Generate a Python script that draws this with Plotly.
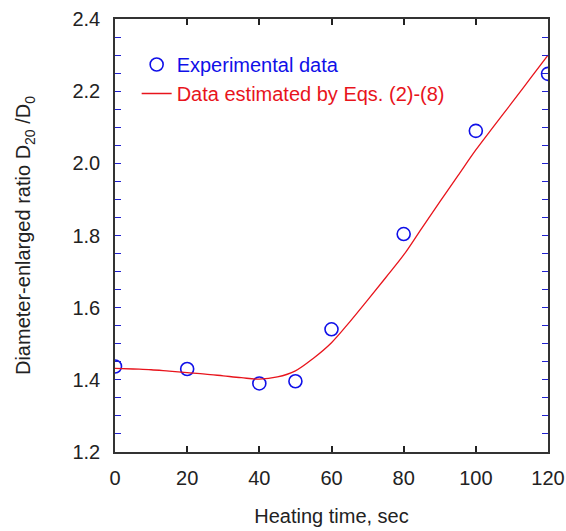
import plotly.graph_objects as go

# Experimental data
exp_time = [0, 20, 40, 50, 60, 80, 100, 120]
exp_ratio = [1.437, 1.430, 1.390, 1.396, 1.540, 1.804, 2.090, 2.248]

# Estimated curve (Eqs. (2)-(8))
est_time = [0, 5, 10, 15, 20, 25, 30, 35, 40, 45, 50, 55, 60, 65, 70, 75, 80,
            85, 90, 95, 100, 105, 110, 115, 120]
est_ratio = [1.432, 1.430, 1.428, 1.424, 1.420, 1.416, 1.411, 1.406, 1.402, 1.408,
             1.425, 1.460, 1.503, 1.560, 1.621, 1.683, 1.746, 1.820, 1.893, 1.965,
             2.037, 2.103, 2.168, 2.234, 2.300]

x_ticks = [0, 20, 40, 60, 80, 100, 120]
y_ticks = [1.2, 1.4, 1.6, 1.8, 2.0, 2.2, 2.4]

FONT = "Liberation Sans, Arial, sans-serif"
FS = 20
BLUE = "#1010e8"
RED = "#e8141c"

fig = go.Figure()
fig.add_trace(go.Scatter(
    x=exp_time, y=exp_ratio, mode="markers",
    name=f"<span style='color:{BLUE}'>Experimental data</span>",
    marker=dict(symbol="circle-open", size=13, color=BLUE, line=dict(width=1.6)),
))
fig.add_trace(go.Scatter(
    x=est_time, y=est_ratio, mode="lines",
    name=f"<span style='color:{RED}'>Data estimated by Eqs. (2)-(8)</span>",
    line=dict(color=RED, width=1.3), line_shape="spline",
))

fig.update_layout(
    width=566, height=531,
    margin=dict(l=115, r=18, t=19, b=79, autoexpand=False),
    paper_bgcolor="white", plot_bgcolor="white",
    font=dict(family=FONT, size=FS, color="#222222"),
    showlegend=True,
    legend=dict(x=0.05, y=0.94, xanchor="left", yanchor="top",
                bgcolor="rgba(0,0,0,0)", font=dict(size=FS, family=FONT),
                tracegroupgap=0),
    xaxis=dict(
        range=[0, 120], tickvals=x_ticks, ticks="inside", ticklen=6,
        tickcolor="#222222", tickwidth=1.5, showline=True, linecolor="#333333",
        linewidth=1.5, mirror="ticks", showgrid=False, zeroline=False,
        ticklabelstandoff=7, automargin=False,
        title=dict(text="Heating time, sec", font=dict(size=FS, family=FONT), standoff=21),
        tickfont=dict(size=FS, family=FONT),
    ),
    yaxis=dict(
        range=[1.2, 2.4], tickvals=y_ticks, tickformat=".1f", ticks="inside", ticklen=6,
        tickcolor="#2020d0", tickwidth=1.3, showline=True, linecolor="#333333",
        linewidth=1.5, mirror="ticks", showgrid=False, zeroline=False,
        ticklabelstandoff=9, automargin=False,
        minor=dict(dtick=0.05, tick0=1.2, ticks="inside", ticklen=6,
                   tickcolor="#2020d0", tickwidth=1.3, showgrid=False),
        title=dict(text="Diameter-enlarged ratio D<sub>20</sub> /D<sub>0</sub>",
                   font=dict(size=FS, family=FONT), standoff=36),
        tickfont=dict(size=FS, family=FONT),
    ),
)

fig.write_html(
    "out.html",
    config={"displayModeBar": False},
    post_script="document.body.style.margin='0';document.body.style.overflow='hidden';",
)
